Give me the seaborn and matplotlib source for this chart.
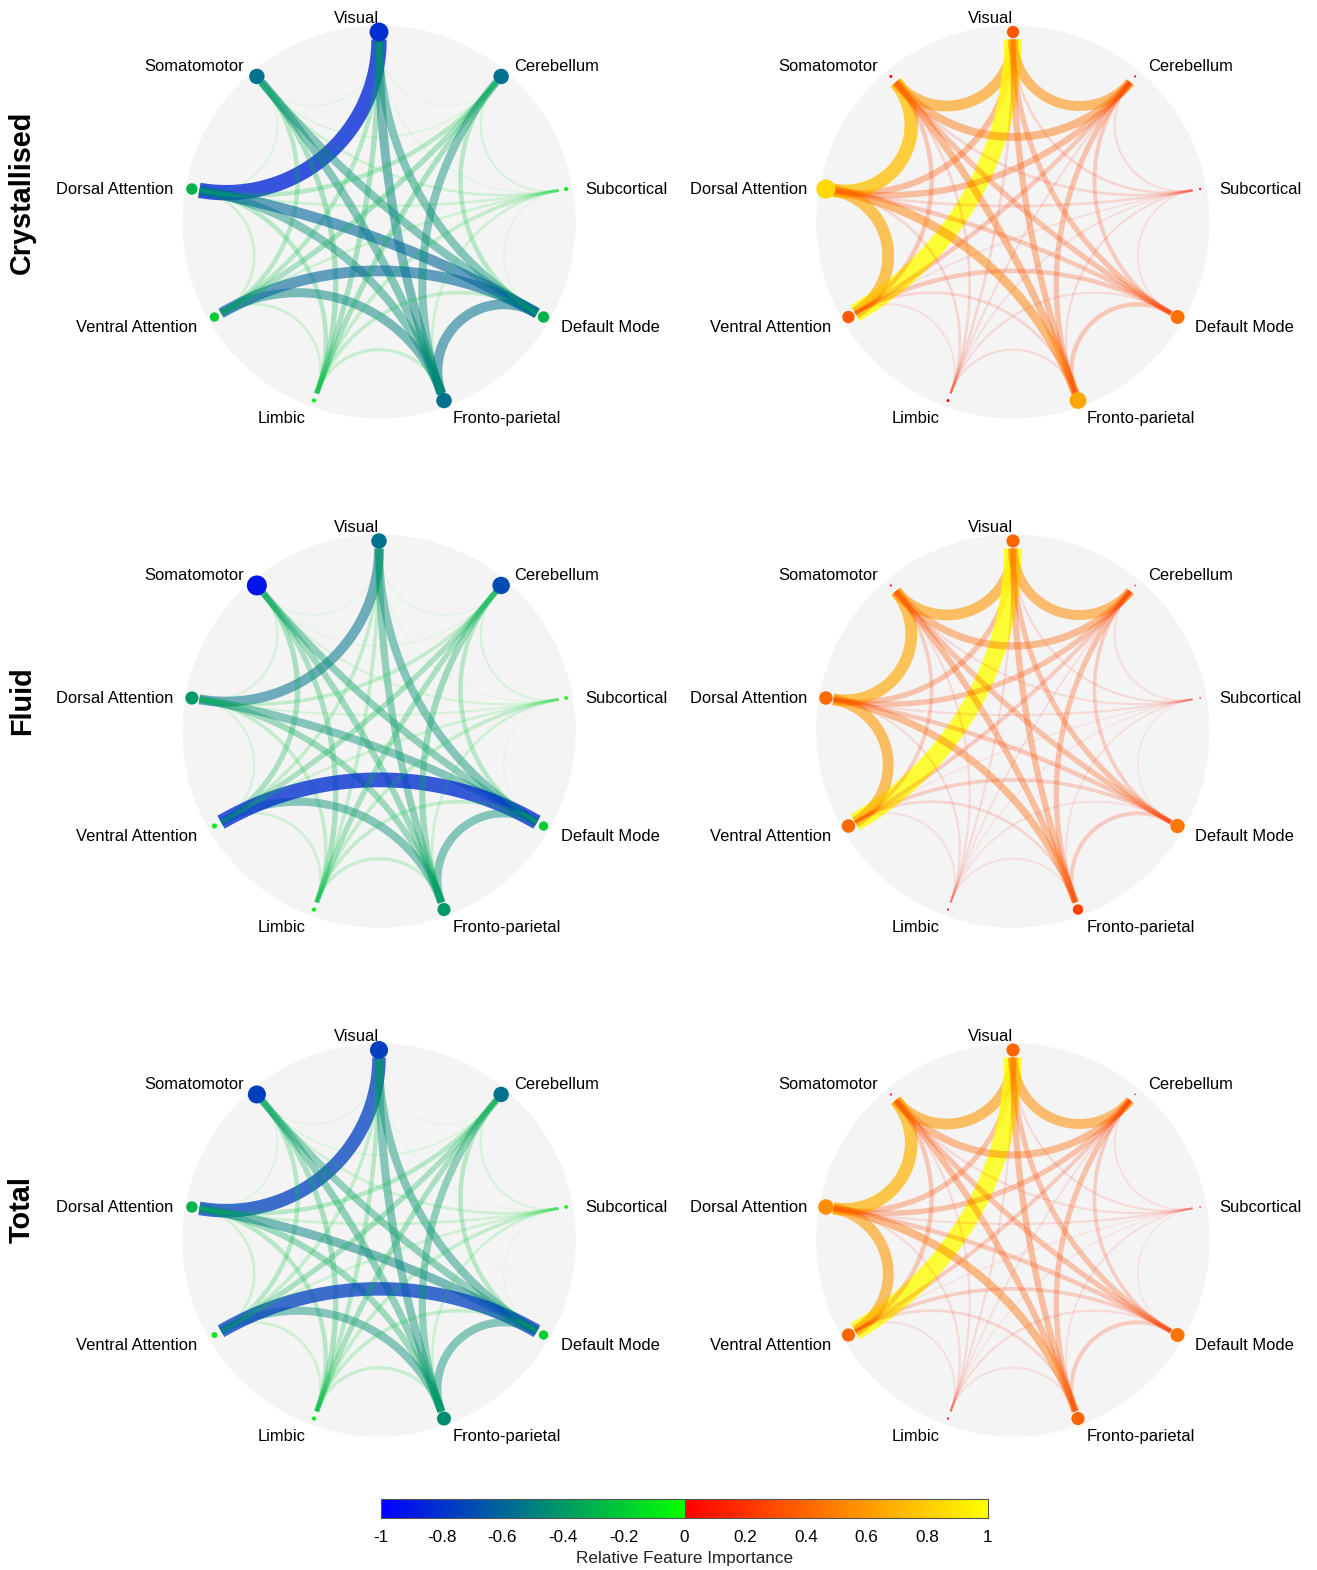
import numpy as np
import pandas as pd
import matplotlib
matplotlib.use("Agg")
import matplotlib.pyplot as plt
import seaborn as sns
from matplotlib.colors import ListedColormap, Normalize
from matplotlib.cm import ScalarMappable
from matplotlib.patches import Circle

# ---------------------------------------------------------------- data
networks = ["Visual", "Somatomotor", "Dorsal Attention", "Ventral Attention",
            "Limbic", "Fronto-parietal", "Default Mode", "Subcortical", "Cerebellum"]
row_titles = ["Crystallised", "Fluid", "Total"]

# Upper-triangular connection weights (row i lists pairs i-(i+1) ... i-8)
crys_neg_edges = [
    [-0.08, -0.85, -0.25, -0.30, -0.50, -0.45, -0.08, -0.06],
    [-0.10, -0.25, -0.30, -0.45, -0.45, -0.15, -0.10],
    [-0.15, -0.25, -0.45, -0.60, -0.15, -0.25],
    [-0.15, -0.50, -0.60, -0.15, -0.30],
    [-0.18, -0.20, -0.20, -0.30],
    [-0.55, -0.15, -0.45],
    [-0.08, -0.25],
    [-0.12],
]
crys_pos_edges = [
    [0.60, 0.35, 1.00, 0.15, 0.35, 0.30, 0.15, 0.55],
    [0.75, 0.25, 0.15, 0.40, 0.30, 0.15, 0.45],
    [0.65, 0.15, 0.50, 0.25, 0.15, 0.35],
    [0.10, 0.15, 0.25, 0.10, 0.25],
    [0.12, 0.12, 0.10, 0.12],
    [0.25, 0.12, 0.30],
    [0.10, 0.22],
    [0.12],
]
fluid_neg_edges = [
    [-0.08, -0.55, -0.20, -0.20, -0.40, -0.45, -0.06, -0.08],
    [-0.12, -0.30, -0.30, -0.35, -0.40, -0.12, -0.08],
    [-0.12, -0.20, -0.35, -0.45, -0.12, -0.20],
    [-0.15, -0.45, -0.82, -0.15, -0.30],
    [-0.18, -0.20, -0.20, -0.30],
    [-0.45, -0.15, -0.35],
    [-0.06, -0.25],
    [-0.12],
]
fluid_pos_edges = [
    [0.60, 0.30, 1.00, 0.12, 0.35, 0.30, 0.12, 0.55],
    [0.65, 0.20, 0.12, 0.35, 0.30, 0.12, 0.40],
    [0.60, 0.12, 0.40, 0.25, 0.12, 0.30],
    [0.10, 0.15, 0.20, 0.08, 0.22],
    [0.10, 0.10, 0.08, 0.10],
    [0.22, 0.10, 0.30],
    [0.08, 0.20],
    [0.10],
]
total_neg_edges = [
    [-0.08, -0.75, -0.20, -0.25, -0.45, -0.45, -0.06, -0.06],
    [-0.10, -0.25, -0.30, -0.40, -0.40, -0.15, -0.10],
    [-0.15, -0.25, -0.35, -0.50, -0.15, -0.25],
    [-0.15, -0.45, -0.75, -0.15, -0.30],
    [-0.18, -0.20, -0.20, -0.30],
    [-0.45, -0.15, -0.40],
    [-0.06, -0.25],
    [-0.12],
]
total_pos_edges = [
    [0.60, 0.30, 1.00, 0.12, 0.35, 0.30, 0.12, 0.55],
    [0.70, 0.25, 0.12, 0.35, 0.30, 0.12, 0.40],
    [0.60, 0.12, 0.45, 0.25, 0.12, 0.30],
    [0.10, 0.15, 0.20, 0.08, 0.22],
    [0.10, 0.12, 0.08, 0.10],
    [0.22, 0.10, 0.30],
    [0.08, 0.20],
    [0.10],
]

# Within-network importance (node markers)
crys_neg_nodes = [-0.82, -0.55, -0.30, -0.20, -0.04, -0.55, -0.30, -0.04, -0.55]
crys_pos_nodes = [0.35, 0.02, 0.85, 0.35, 0.02, 0.65, 0.45, 0.01, 0.01]
fluid_neg_nodes = [-0.55, -0.92, -0.40, -0.06, -0.04, -0.40, -0.20, -0.03, -0.70]
fluid_pos_nodes = [0.40, 0.01, 0.42, 0.42, 0.01, 0.25, 0.48, 0.005, 0.005]
total_neg_nodes = [-0.75, -0.75, -0.30, -0.08, -0.04, -0.45, -0.20, -0.03, -0.55]
total_pos_nodes = [0.40, 0.01, 0.55, 0.40, 0.01, 0.40, 0.45, 0.005, 0.005]

panels = [
    (crys_neg_edges, crys_neg_nodes), (crys_pos_edges, crys_pos_nodes),
    (fluid_neg_edges, fluid_neg_nodes), (fluid_pos_edges, fluid_pos_nodes),
    (total_neg_edges, total_neg_nodes), (total_pos_edges, total_pos_nodes),
]

# ---------------------------------------------------------------- style
sns.set_theme(style="white")
plt.rcParams["font.family"] = ["Liberation Sans", "DejaVu Sans"]
plt.rcParams["text.color"] = "black"
plt.rcParams["xtick.color"] = "black"

# diverging map: blue -> green for negative, red -> yellow for positive
t = np.linspace(0, 1, 128)
neg_part = np.column_stack([np.zeros_like(t), t, 1 - t, np.ones_like(t)])
pos_part = np.column_stack([np.ones_like(t), t, np.zeros_like(t), np.ones_like(t)])
cmap = ListedColormap(np.vstack([neg_part, pos_part]), name="importance")
norm = Normalize(-1, 1)

W, H = 1317, 1570
fig = plt.figure(figsize=(W / 100, H / 100), dpi=100)
fig.patch.set_facecolor("white")

R_PX = 190.0          # node ring radius in pixels
HALF_PX = 230.0       # half-size of each panel axes in pixels
lim = HALF_PX / R_PX
col_x = [379, 1013]
row_y = [222, 731, 1240]

angles = np.deg2rad(90 + 40 * np.arange(len(networks)))
EDGE_R = 0.96


def arc_points(a1, a2, r=EDGE_R, n=120):
    """Circle arc orthogonal to the ring joining two nodes."""
    p1 = np.array([np.cos(a1), np.sin(a1)]) * r
    p2 = np.array([np.cos(a2), np.sin(a2)]) * r
    d = np.arccos(np.clip(np.cos(a1 - a2), -1, 1))
    mid = np.arctan2(np.sin(a1) + np.sin(a2), np.cos(a1) + np.cos(a2))
    c = np.array([np.cos(mid), np.sin(mid)]) * r / np.cos(d / 2)
    rho = r * np.tan(d / 2)
    t1 = np.arctan2(*(p1 - c)[::-1])
    t2 = np.arctan2(*(p2 - c)[::-1])
    dt = (t2 - t1 + np.pi) % (2 * np.pi) - np.pi
    tt = t1 + np.linspace(0, 1, n) * dt
    return c[0] + rho * np.cos(tt), c[1] + rho * np.sin(tt)


for k, (edges, nodes) in enumerate(panels):
    r, cidx = divmod(k, 2)
    cx, cy = col_x[cidx], row_y[r]
    ax = fig.add_axes([(cx - HALF_PX) / W, (H - cy - HALF_PX) / H,
                       2 * HALF_PX / W, 2 * HALF_PX / H])
    ax.set_xlim(-lim, lim)
    ax.set_ylim(-lim, lim)
    ax.set_axis_off()
    ax.add_patch(Circle((0, 0), 1.035, facecolor="#f4f4f4", edgecolor="none", zorder=0))

    for i, row in enumerate(edges):
        for off, v in enumerate(row):
            j = i + 1 + off
            x, y = arc_points(angles[i], angles[j])
            mag = abs(v)
            ax.plot(x, y, color=cmap(norm(v)), lw=max(0.5, 13.0 * mag),
                    alpha=float(np.clip(1.0 * mag, 0.08, 0.78)),
                    solid_capstyle="butt", zorder=2)

    node_df = pd.DataFrame({
        "x": np.cos(angles), "y": np.sin(angles),
        "value": nodes, "magnitude": np.abs(nodes),
    })
    sns.scatterplot(data=node_df, x="x", y="y", hue="value", palette=cmap,
                    hue_norm=(-1, 1), size="magnitude", sizes=(0, 225),
                    size_norm=(0, 1), legend=False, linewidth=0, ax=ax, zorder=5)
    ax.set_xlabel("")
    ax.set_ylabel("")

    for name, a in zip(networks, angles):
        c, s = np.cos(a), np.sin(a)
        right_side = c > 1e-3
        ha = "left" if right_side else "right"
        dx = 0.0 if abs(c) < 1e-3 else (0.016 if right_side else -0.016)
        ax.text(1.085 * c + dx, 1.085 * s - 0.015, name, ha=ha, va="center",
                fontsize=11.9, color="black", clip_on=False, zorder=6)

    if cidx == 0:
        fig.text(22 / W, 1 - (cy - 30) / H, row_titles[r], rotation=90,
                 ha="center", va="center", fontsize=20.8, fontweight="bold",
                 color="black")

# ---------------------------------------------------------------- colour bar
cax = fig.add_axes([381 / W, (H - 1518) / H, (988 - 381) / W, 19 / H])
cb = fig.colorbar(ScalarMappable(norm=norm, cmap=cmap), cax=cax, orientation="horizontal")
ticks = np.round(np.arange(-1, 1.001, 0.2), 1)
cb.set_ticks(ticks)
cb.set_ticklabels([f"{t:g}" if abs(t) > 1e-9 else "0" for t in ticks])
cax.tick_params(direction="in", length=4, width=0.8, color="#333333",
                labelsize=12.3, labelcolor="black", pad=9, bottom=True, top=False)
cb.outline.set_edgecolor("#555555")
cb.outline.set_linewidth(0.8)
cb.set_label("Relative Feature Importance", fontsize=12.3, labelpad=4, color="#222222")

fig.savefig("out.png", dpi=100, facecolor="white")
